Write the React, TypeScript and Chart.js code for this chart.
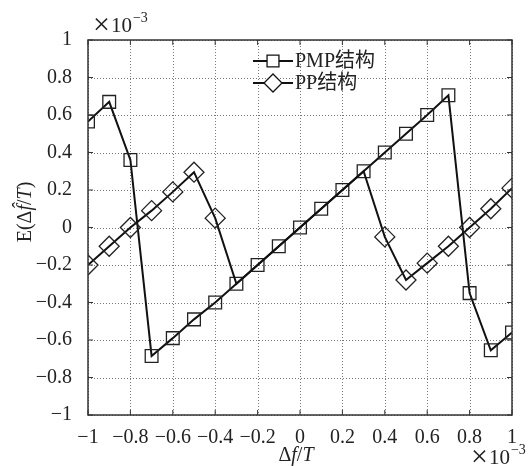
import React, { useEffect, useRef } from 'react';
import { Chart, registerables } from 'chart.js';
Chart.register(...registerables);

const xValues = [-1, -0.9, -0.8, -0.7, -0.6, -0.5, -0.4, -0.3, -0.2, -0.1, 0, 0.1, 0.2, 0.3, 0.4, 0.5, 0.6, 0.7, 0.8, 0.9, 1];
const pmpValues = [0.565, 0.67, 0.36, -0.685, -0.59, -0.49, -0.4, -0.3, -0.2, -0.1, 0.0, 0.1, 0.2, 0.3, 0.4, 0.5, 0.6, 0.705, -0.35, -0.655, -0.56];
const ppValues = [-0.2, -0.1, 0.0, 0.09, 0.19, 0.295, 0.05, -0.3, -0.2, -0.1, 0.0, 0.1, 0.2, 0.3, -0.05, -0.28, -0.19, -0.1, 0.0, 0.1, 0.21];
const legendLabels = ['PMP结构', 'PP结构'];
const xTitleParts = [['Δ', false], ['f', true], ['/', false], ['T', true]] as [string, boolean][];
const yTitleParts = [['E(Δ', false], ['f̂', true], ['/', false], ['T', true], [')', false]] as [string, boolean][];
const timesSign = '×';
const exponentBase = '10';
const exponentPower = '−3';

const FONT = '"Liberation Serif", "Noto Sans CJK SC", serif';

const fmt = (v: number) => {
  const r = Math.round(v * 10) / 10;
  return String(r).replace('-', '−');
};

const drawParts = (ctx: any, parts: [string, boolean][], cx: number, cy: number, size: number) => {
  let total = 0;
  const widths = parts.map(([t, it]) => {
    ctx.font = `${it ? 'italic ' : ''}${size}px ${FONT}`;
    const w = ctx.measureText(t).width;
    total += w;
    return w;
  });
  let x = cx - total / 2;
  ctx.textAlign = 'left';
  ctx.textBaseline = 'middle';
  parts.forEach(([t, it], i) => {
    ctx.font = `${it ? 'italic ' : ''}${size}px ${FONT}`;
    ctx.fillText(t, x, cy);
    x += widths[i];
  });
};

const gridPlugin = {
  id: 'dotgrid',
  beforeDatasetsDraw(chart: any) {
    const { ctx, chartArea: a, scales } = chart;
    ctx.save();
    ctx.strokeStyle = '#777';
    ctx.lineWidth = 1;
    ctx.setLineDash([1, 2]);
    scales.x.ticks.forEach((t: any) => {
      const px = Math.round(scales.x.getPixelForValue(t.value)) + 0.5;
      ctx.beginPath();
      ctx.moveTo(px, a.top); ctx.lineTo(px, a.bottom);
      ctx.stroke();
    });
    scales.y.ticks.forEach((t: any) => {
      const py = Math.round(scales.y.getPixelForValue(t.value)) + 0.5;
      ctx.beginPath();
      ctx.moveTo(a.left, py); ctx.lineTo(a.right, py);
      ctx.stroke();
    });
    ctx.restore();
  },
};

const decorPlugin = {
  id: 'decor',
  afterDraw(chart: any) {
    const { ctx, chartArea: a, scales } = chart;
    const xs = scales.x;
    const ys = scales.y;
    ctx.save();
    ctx.strokeStyle = '#333';
    ctx.lineWidth = 1.5;
    ctx.strokeRect(a.left, a.top, a.right - a.left, a.bottom - a.top);
    ctx.lineWidth = 1;
    const tl = 5;
    xs.ticks.forEach((t: any) => {
      const px = xs.getPixelForValue(t.value);
      ctx.beginPath();
      ctx.moveTo(px, a.bottom); ctx.lineTo(px, a.bottom - tl);
      ctx.moveTo(px, a.top); ctx.lineTo(px, a.top + tl);
      ctx.stroke();
    });
    ys.ticks.forEach((t: any) => {
      const py = ys.getPixelForValue(t.value);
      ctx.beginPath();
      ctx.moveTo(a.left, py); ctx.lineTo(a.left + tl, py);
      ctx.moveTo(a.right, py); ctx.lineTo(a.right - tl, py);
      ctx.stroke();
    });
    ctx.fillStyle = '#222';
    ctx.textBaseline = 'alphabetic';
    ctx.textAlign = 'left';
    const drawExp = (x: number, y: number) => {
      ctx.font = `30px ${FONT}`;
      ctx.fillText(timesSign, x, y + 2);
      let w = ctx.measureText(timesSign).width + 1;
      ctx.font = `21px ${FONT}`;
      ctx.fillText(exponentBase, x + w, y);
      w += ctx.measureText(exponentBase).width;
      ctx.font = `14px ${FONT}`;
      ctx.fillText(exponentPower, x + w + 1, y - 10);
    };
    drawExp(a.left + 5, a.top - 8);
    drawExp(a.right - 41, chart.height - 2);
    ctx.fillStyle = '#222';
    drawParts(ctx, xTitleParts, (a.left + a.right) / 2 - 4, chart.height - 10, 20);
    ctx.save();
    ctx.translate(26, 212);
    ctx.rotate(-Math.PI / 2);
    drawParts(ctx, yTitleParts, 0, 0, 20);
    ctx.restore();
    const lx0 = 253, lx1 = 293;
    const rows = [
      { y: 61, style: 'rect', r: 7, label: legendLabels[0] },
      { y: 83, style: 'rectRot', r: 9, label: legendLabels[1] },
    ];
    rows.forEach((row) => {
      ctx.strokeStyle = '#111';
      ctx.lineWidth = 2;
      ctx.beginPath();
      ctx.moveTo(lx0, row.y); ctx.lineTo(lx1, row.y);
      ctx.stroke();
      ctx.fillStyle = '#fff';
      ctx.lineWidth = 1.3;
      const cx = (lx0 + lx1) / 2;
      ctx.beginPath();
      if (row.style === 'rect') {
        ctx.rect(cx - row.r * 0.85, row.y - row.r * 0.85, row.r * 1.7, row.r * 1.7);
      } else {
        ctx.moveTo(cx, row.y - row.r);
        ctx.lineTo(cx + row.r, row.y);
        ctx.lineTo(cx, row.y + row.r);
        ctx.lineTo(cx - row.r, row.y);
        ctx.closePath();
      }
      ctx.fill();
      ctx.stroke();
      ctx.fillStyle = '#222';
      ctx.font = `20px ${FONT}`;
      ctx.textAlign = 'left';
      ctx.textBaseline = 'middle';
      ctx.fillText(row.label, lx1 + 2, row.y + 1);
    });
    ctx.restore();
  },
};

export default function App() {
  const ref = useRef<HTMLCanvasElement>(null);
  useEffect(() => {
    document.body.style.margin = '0';
    const canvas = ref.current!;
    const chart = new Chart(canvas, {
      type: 'line',
      data: {
        datasets: [
          {
            label: legendLabels[1],
            data: xValues.map((x, i) => ({ x, y: ppValues[i] })),
            borderColor: '#111',
            borderWidth: 2,
            backgroundColor: 'transparent',
            pointStyle: 'rectRot',
            pointRadius: (c: any) => {
              const x = xValues[c.dataIndex];
              return x > -0.35 && x < 0.35 ? 0 : 10;
            },
            pointBorderWidth: 1.3,
            pointBorderColor: '#222',
            pointBackgroundColor: 'transparent',
            tension: 0,
          },
          {
            label: legendLabels[0],
            data: xValues.map((x, i) => ({ x, y: pmpValues[i] })),
            borderColor: '#111',
            borderWidth: 2,
            backgroundColor: 'transparent',
            pointStyle: 'rect',
            pointRadius: 9,
            pointBorderWidth: 1.3,
            pointBorderColor: '#222',
            pointBackgroundColor: 'transparent',
            tension: 0,
          },
        ],
      },
      options: {
        animation: false,
        responsive: false,
        maintainAspectRatio: false,
        layout: { padding: { left: 0, right: 18, top: 40, bottom: 0 } },
        plugins: { legend: { display: false }, tooltip: { enabled: false } },
        scales: {
          x: {
            type: 'linear',
            min: -1,
            max: 1,
            ticks: {
              stepSize: 0.2,
              padding: 3,
              color: '#222',
              font: { family: FONT, size: 20 },
              maxRotation: 0,
              autoSkip: false,
              callback: (v: any) => fmt(Number(v)),
            },
            grid: { display: false },
            border: { display: false },
            afterFit: (s: any) => { s.height = 51; },
          },
          y: {
            type: 'linear',
            min: -1,
            max: 1,
            ticks: {
              stepSize: 0.2,
              padding: 8,
              color: '#222',
              font: { family: FONT, size: 20 },
              autoSkip: false,
              callback: (v: any) => fmt(Number(v)),
            },
            grid: { display: false },
            border: { display: false },
            afterFit: (s: any) => { s.width = 88; },
          },
        },
      },
      plugins: [gridPlugin, decorPlugin],
    } as any);
    return () => chart.destroy();
  }, []);
  return (
    <div style={{ width: 530, height: 466, background: '#fff' }}>
      <canvas ref={ref} width={530} height={466} style={{ display: 'block' }} />
    </div>
  );
}
